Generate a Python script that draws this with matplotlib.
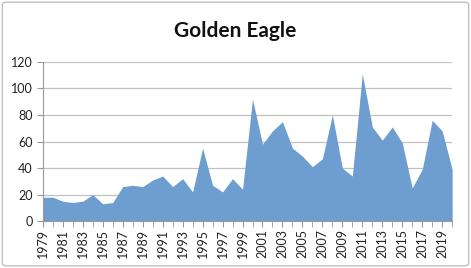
import matplotlib.pyplot as plt
from matplotlib.patches import FancyBboxPatch

years = list(range(1979, 2021))
counts = [18, 18, 15, 14, 15, 20, 13, 14, 26, 27,
          26, 31, 34, 26, 32, 22, 55, 27, 22, 32,
          24, 92, 58, 68, 75, 55, 49, 41, 47, 80,
          40, 34, 111, 71, 61, 71, 59, 25, 39, 76,
          68, 39]
tick_years = list(range(1979, 2021, 2))

plt.rcParams['font.family'] = ['Lato', 'DejaVu Sans']

fig = plt.figure(figsize=(4.71, 2.68), dpi=100)
ax = fig.add_axes([0.091, 0.175, 0.869, 0.594])

ax.fill_between(years, counts, 0, color="#6e9ecf", linewidth=0, zorder=2)

ax.set_xlim(1979, 2020)
ax.set_ylim(0, 120)
ax.set_yticks(range(0, 121, 20))
ax.set_xticks(years, minor=True)
ax.set_xticks(tick_years)
ax.set_xticklabels([str(y) for y in tick_years], rotation=90)
ax.tick_params(axis="both", labelsize=9, colors="#222222")
ax.tick_params(axis="x", which="both", length=4, color="#999999", direction="out")
ax.tick_params(axis="y", length=4, color="#999999")
ax.tick_params(axis="x", pad=2)

ax.grid(axis="y", color="#c0c0c0", linewidth=0.9, zorder=1)
for s in ["top", "right"]:
    ax.spines[s].set_visible(False)
for s in ["left", "bottom"]:
    ax.spines[s].set_color("#999999")

fig.text(0.5, 0.885, "Golden Eagle", ha="center", va="center",
         fontsize=15, fontweight="bold", color="#111111")

border = FancyBboxPatch((0.005, 0.008), 0.99, 0.984, transform=fig.transFigure,
                        boxstyle="round,pad=0,rounding_size=0.01",
                        fill=False, edgecolor="#bfbfbf", linewidth=1)
fig.patches.append(border)

fig.savefig("out.png", dpi=100)
